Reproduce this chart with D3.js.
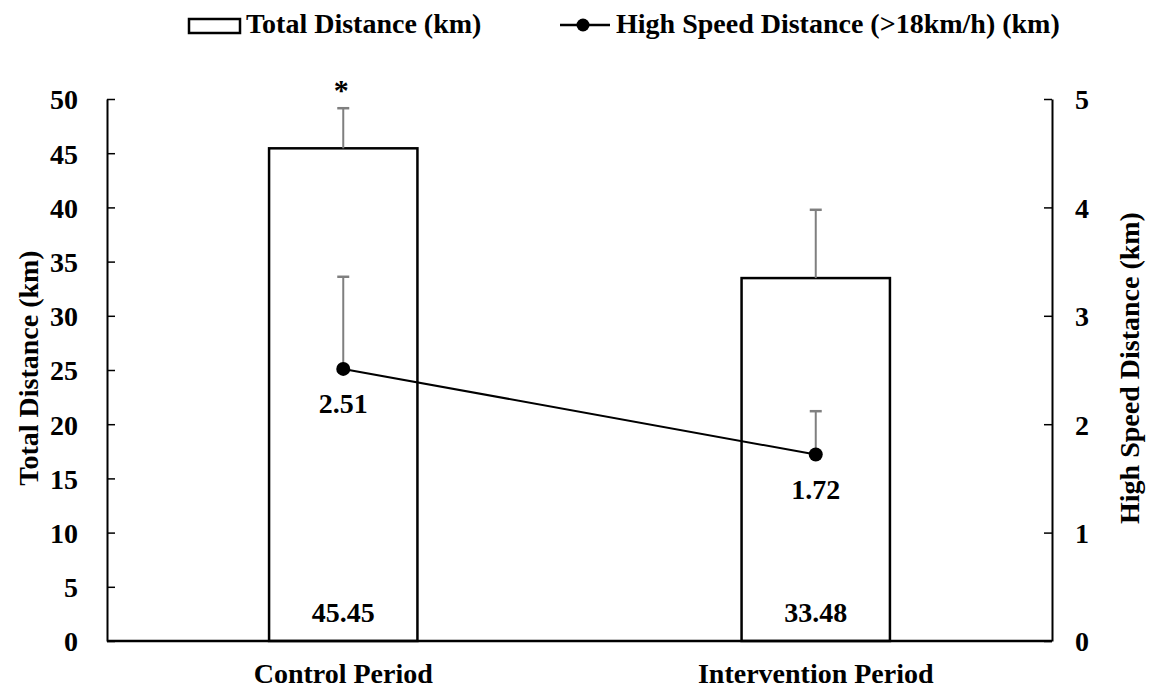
<!DOCTYPE html>
<html>
<head>
<meta charset="utf-8">
<script src="https://cdn.jsdelivr.net/npm/d3@7"></script>
<style>
  body { margin: 0; background: #fff; }
  text { font-family: "Liberation Serif", "Times New Roman", serif; font-weight: bold; fill: #000; }
</style>
</head>
<body>
<div id="chart"></div>
<script>
var periods = ['Control Period', 'Intervention Period'];
var totalDistance = [45.45, 33.48];
var totalSD = [3.7, 6.3];
var highSpeed = [2.51, 1.72];
var highSpeedSD = [0.85, 0.40];
var leftTicks = [0, 5, 10, 15, 20, 25, 30, 35, 40, 45, 50];
var rightTicks = [0, 1, 2, 3, 4, 5];

var width = 1152, height = 690
  , mLeft = 107, mRight = 1052, mTop = 99, mBottom = 641
  , fs = '28px';

var svg = d3.select('#chart').append('svg')
  .attr('width', width)
  .attr('height', height);

var x = d3.scaleBand().domain(periods).range([mLeft, mRight]).paddingInner(0.686).paddingOuter(0.343);
var y = d3.scaleLinear().domain([0, 50]).range([mBottom, mTop]);
var y2 = d3.scaleLinear().domain([0, 5]).range([mBottom, mTop]);

var cx = function(d) { return x(d) + x.bandwidth() / 2; };

// axes, ticks pointing inward
var yAxis = svg.append('g')
  .attr('transform', 'translate(' + mLeft + ',0)')
  .call(d3.axisLeft(y).tickValues(leftTicks).tickFormat(d3.format('d'))
    .tickSizeInner(-8).tickSizeOuter(0).tickPadding(29));
var y2Axis = svg.append('g')
  .attr('transform', 'translate(' + mRight + ',0)')
  .call(d3.axisRight(y2).tickValues(rightTicks).tickFormat(d3.format('d'))
    .tickSizeInner(-8).tickSizeOuter(0).tickPadding(23));
[yAxis, y2Axis].forEach(function(g) {
  g.attr('font-family', '"Liberation Serif", "Times New Roman", serif')
    .attr('font-size', 28)
    .attr('font-weight', 'bold');
  g.select('.domain').attr('stroke', '#000').attr('stroke-width', 2);
  g.selectAll('.tick line').attr('stroke', '#000').attr('stroke-width', 1.5);
  g.selectAll('.tick text').attr('dy', '0.35em').attr('fill', '#000');
});
yAxis.selectAll('.tick text').attr('x', -29);
y2Axis.selectAll('.tick text').attr('x', 23);

// bars
svg.selectAll('rect.bar')
  .data(periods)
  .enter().append('rect')
  .attr('class', 'bar')
  .attr('x', function(d) { return x(d); })
  .attr('y', function(d, i) { return y(totalDistance[i]); })
  .attr('width', x.bandwidth())
  .attr('height', function(d, i) { return mBottom - y(totalDistance[i]); })
  .attr('fill', '#fff')
  .attr('stroke', '#000')
  .attr('stroke-width', 2.5);

// bottom axis line
svg.append('line')
  .attr('x1', mLeft).attr('x2', mRight)
  .attr('y1', mBottom).attr('y2', mBottom)
  .attr('stroke', '#000').attr('stroke-width', 2.5);

// error bars (upper only)
function errBar(vals, sds, scale) {
  periods.forEach(function(p, i) {
    var xc = cx(p), y0 = scale(vals[i]), y1 = scale(vals[i] + sds[i]);
    svg.append('line').attr('x1', xc).attr('x2', xc).attr('y1', y0).attr('y2', y1)
      .attr('stroke', '#7f7f7f').attr('stroke-width', 2);
    svg.append('line').attr('x1', xc - 6).attr('x2', xc + 6).attr('y1', y1).attr('y2', y1)
      .attr('stroke', '#7f7f7f').attr('stroke-width', 2.5);
  });
}
errBar(totalDistance, totalSD, y);
errBar(highSpeed, highSpeedSD, y2);

// line series
var line = d3.line()
  .x(function(d, i) { return cx(periods[i]); })
  .y(function(d) { return y2(d); });
svg.append('path')
  .datum(highSpeed)
  .attr('d', line)
  .attr('fill', 'none')
  .attr('stroke', '#000')
  .attr('stroke-width', 2);
svg.selectAll('circle.pt')
  .data(highSpeed)
  .enter().append('circle')
  .attr('class', 'pt')
  .attr('cx', function(d, i) { return cx(periods[i]); })
  .attr('cy', function(d) { return y2(d); })
  .attr('r', 7)
  .attr('fill', '#000');

// value labels
svg.selectAll('text.tv')
  .data(totalDistance)
  .enter().append('text')
  .attr('class', 'tv')
  .attr('x', function(d, i) { return cx(periods[i]); })
  .attr('y', 622)
  .attr('text-anchor', 'middle')
  .style('font-size', fs)
  .text(function(d) { return d.toFixed(2); });
svg.selectAll('text.hv')
  .data(highSpeed)
  .enter().append('text')
  .attr('class', 'hv')
  .attr('x', function(d, i) { return cx(periods[i]); })
  .attr('y', function(d) { return y2(d) + 44; })
  .attr('text-anchor', 'middle')
  .style('font-size', fs)
  .text(function(d) { return d.toFixed(2); });

// significance marker
svg.append('text')
  .attr('x', cx(periods[0]) - 2)
  .attr('y', y(totalDistance[0] + totalSD[0]) - 8)
  .attr('text-anchor', 'middle')
  .style('font-size', '30px')
  .text('*');

// category labels
svg.selectAll('text.cat')
  .data(periods)
  .enter().append('text')
  .attr('class', 'cat')
  .attr('x', cx)
  .attr('y', 683)
  .attr('text-anchor', 'middle')
  .style('font-size', fs)
  .text(function(d) { return d; });

// axis titles
svg.append('text')
  .attr('transform', 'translate(38,' + 368 + ') rotate(-90)')
  .attr('text-anchor', 'middle')
  .style('font-size', fs)
  .text('Total Distance (km)');
svg.append('text')
  .attr('transform', 'translate(1139,' + 368 + ') rotate(-90)')
  .attr('text-anchor', 'middle')
  .style('font-size', fs)
  .text('High Speed Distance (km)');

// legend
var lg = svg.append('g');
lg.append('rect')
  .attr('x', 189).attr('y', 19).attr('width', 51).attr('height', 14)
  .attr('fill', '#fff').attr('stroke', '#000').attr('stroke-width', 2.5);
lg.append('text').attr('x', 246).attr('y', 33).style('font-size', fs).text('Total Distance (km)');
lg.append('line').attr('x1', 560).attr('x2', 610).attr('y1', 25).attr('y2', 25)
  .attr('stroke', '#000').attr('stroke-width', 2.5);
lg.append('circle').attr('cx', 583).attr('cy', 25).attr('r', 6.5).attr('fill', '#000');
lg.append('text').attr('x', 616).attr('y', 33).style('font-size', fs).text('High Speed Distance (>18km/h) (km)');
</script>
</body>
</html>
